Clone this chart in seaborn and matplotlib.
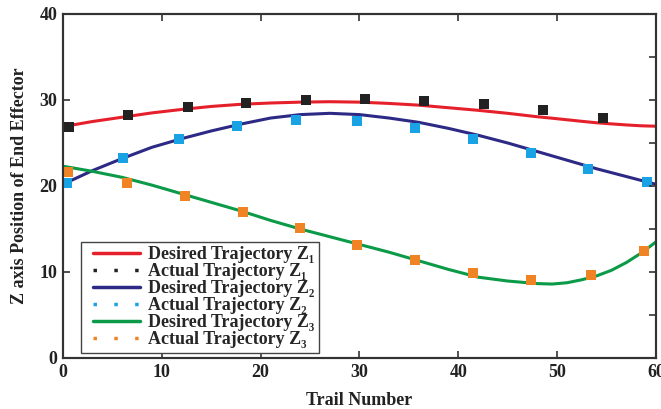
import seaborn as sns
import matplotlib.pyplot as plt
from matplotlib.lines import Line2D
from matplotlib.legend_handler import HandlerLine2D
import numpy as np

# desired trajectories
trail_desired = [0, 3, 6, 9, 12, 15, 18, 21, 24, 27, 30, 33, 36, 39, 42, 45, 48,
                 49.5, 51, 52.5, 54, 55.5, 57, 58.5, 60]
z1_desired = [26.9, 27.5, 28.0, 28.5, 28.9, 29.25, 29.5, 29.65, 29.75, 29.8, 29.75,
              29.6, 29.4, 29.1, 28.8, 28.45, 28.05, 27.88, 27.7, 27.52, 27.35, 27.22,
              27.1, 27.0, 26.95]
z2_desired = [20.2, 21.8, 23.2, 24.5, 25.5, 26.4, 27.2, 27.9, 28.3, 28.45, 28.3,
              27.9, 27.4, 26.7, 25.9, 25.0, 24.0, 23.5, 23.0, 22.5, 22.0, 21.55,
              21.1, 20.65, 20.2]
z3_desired = [22.3, 21.7, 21.0, 20.1, 19.1, 18.1, 17.1, 16.0, 15.0, 14.1, 13.2,
              12.3, 11.3, 10.3, 9.4, 8.95, 8.65, 8.6, 8.75, 9.1, 9.55, 10.2,
              11.1, 12.2, 13.5]

# actual trajectories (square markers)
trail_z1 = [0.6, 6.6, 12.6, 18.5, 24.6, 30.6, 36.5, 42.6, 48.6, 54.6]
z1_actual = [26.9, 28.2, 29.2, 29.7, 30.0, 30.1, 29.9, 29.5, 28.8, 27.9]
trail_z2 = [0.4, 6.1, 11.7, 17.6, 23.6, 29.7, 35.6, 41.5, 47.4, 53.1, 59.1]
z2_actual = [20.3, 23.3, 25.5, 27.0, 27.7, 27.6, 26.8, 25.5, 23.8, 22.0, 20.5]
trail_z3 = [0.5, 6.5, 12.3, 18.2, 24.0, 29.7, 35.6, 41.5, 47.4, 53.4, 58.8]
z3_actual = [21.6, 20.3, 18.8, 17.0, 15.1, 13.1, 11.4, 9.9, 9.1, 9.65, 12.4]

red, navy, green = "#E6202A", "#2D2A86", "#0A9A48"
black, cyan, orange = "#222222", "#1AA3E4", "#F08424"

sns.set_style("ticks")
plt.rcParams['font.family'] = ['Liberation Serif', 'DejaVu Serif']
plt.rcParams['font.weight'] = 'bold'

fig = plt.figure(figsize=(6.61, 4.09), dpi=100)
ax = fig.add_axes([0.0953, 0.1247, 0.8971, 0.8411])

for y, c in [(z1_desired, red), (z2_desired, navy), (z3_desired, green)]:
    sns.lineplot(x=trail_desired, y=y, color=c, linewidth=2.2, ax=ax)

for x, y, c in [(trail_z1, z1_actual, black), (trail_z2, z2_actual, cyan),
                (trail_z3, z3_actual, orange)]:
    sns.scatterplot(x=x, y=y, color=c, marker='s', s=50, linewidth=0, ax=ax, zorder=3)

ax.set_xlim(0, 60)
ax.set_ylim(0, 40)
ax.set_xticks(np.arange(0, 61, 10))
ax.set_yticks(np.arange(0, 41, 10))
ax.tick_params(direction='in', length=5, width=1.2, colors='#333333',
               labelcolor='#222222', labelsize=13, top=True, pad=4)
for s in ax.spines.values():
    s.set_linewidth(1.5)
    s.set_color('#333333')

ax2 = ax.twinx()
ax2.set_ylim(0, 40)
ax2.set_yticks(np.arange(0, 41, 5))
ax2.set_yticklabels([])
ax2.tick_params(direction='in', length=5, width=1.2, colors='#333333')
for s in ax2.spines.values():
    s.set_linewidth(1.5)
    s.set_color('#333333')

ax.set_xlabel('Trail Number', fontsize=13, fontweight='bold', color='#222222', labelpad=8)
ax.set_ylabel('Z axis Position of End Effector', fontsize=13, fontweight='bold',
              color='#222222', labelpad=8)

labels = ['Desired Trajectory Z\u2081', 'Actual Trajectory Z\u2081',
          'Desired Trajectory Z\u2082', 'Actual Trajectory Z\u2082',
          'Desired Trajectory Z\u2083', 'Actual Trajectory Z\u2083']
handles = [Line2D([], [], color=red, lw=2.5),
           Line2D([], [], color=black, lw=2.5, ls=(0, (1, 5))),
           Line2D([], [], color=navy, lw=2.5),
           Line2D([], [], color=cyan, lw=2.5, ls=(0, (1, 5))),
           Line2D([], [], color=green, lw=2.5),
           Line2D([], [], color=orange, lw=2.5, ls=(0, (1, 5)))]
hmap = {h: HandlerLine2D(marker_pad=0.45, numpoints=2) for h in handles}
leg = ax.legend(handles, labels, loc='lower left', bbox_to_anchor=(0.03, 0.015),
                borderaxespad=0, fancybox=False, framealpha=1, edgecolor='#444444',
                fontsize=13, handlelength=3.5, handletextpad=0.0, labelspacing=0.0,
                borderpad=0.25, handler_map=hmap)
leg.get_frame().set_linewidth(1.0)

fig.savefig('out.png', dpi=100)
